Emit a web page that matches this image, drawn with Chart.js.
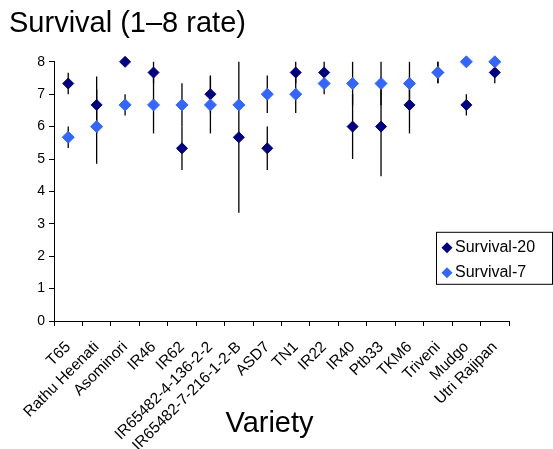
<!DOCTYPE html>
<html>
<head>
<meta charset="utf-8">
<script src="https://cdn.jsdelivr.net/npm/chart.js@4.4.1/dist/chart.umd.min.js"></script>
<style>
  html, body { margin: 0; padding: 0; background: #fff; }
</style>
</head>
<body>
<canvas id="myChart" width="553" height="449"></canvas>
<script>
var varieties = ["T65", "Rathu Heenati", "Asominori", "IR46", "IR62", "IR65482-4-136-2-2",
   "IR65482-7-216-1-2-B", "ASD7", "TN1", "IR22", "IR40", "Ptb33", "TKM6", "Triveni", "Mudgo", "Utri Rajipan"];
var survival20 = [7.33, 6.67, 8, 7.67, 5.33, 7, 5.67, 5.33, 7.67, 7.67, 6, 6, 6.67, 7.67, 6.67, 7.67];
var err20 = [0.33, 0.88, 0, 0.33, 0.67, 0.58, 2.33, 0.67, 0.33, 0.33, 1, 1.53, 0.88, 0.33, 0.33, 0.33];
var survival7 = [5.67, 6, 6.67, 6.67, 6.67, 6.67, 6.67, 7, 7, 7.33, 7.33, 7.33, 7.33, 7.67, 8, 8];
var err7 = [0.33, 1.15, 0.33, 0.88, 0.67, 0.88, 0, 0.58, 0.58, 0.33, 0.67, 0.67, 0.67, 0.33, 0, 0];
var yTicks = [0, 1, 2, 3, 4, 5, 6, 7, 8];

var font = "Arial, 'Liberation Sans', sans-serif";

// vertical error bars, drawn under the diamonds
var errorBars = {
   id: 'errorBars',
   beforeDatasetsDraw: function (chart) {
      var ctx = chart.ctx;
      var y = chart.scales.y;
      ctx.save();
      ctx.strokeStyle = '#000';
      ctx.lineWidth = 1.3;
      chart.data.datasets.forEach(function (ds, di) {
         var meta = chart.getDatasetMeta(di);
         ds.errors.forEach(function (e, i) {
            if (!e) return;
            var px = meta.data[i].x;
            ctx.beginPath();
            ctx.moveTo(px, y.getPixelForValue(ds.data[i] + e));
            ctx.lineTo(px, y.getPixelForValue(ds.data[i] - e));
            ctx.stroke();
         });
      });
      ctx.restore();
   }
};

// boxed legend over the right edge + axis title
var extras = {
   id: 'extras',
   afterDraw: function (chart) {
      var ctx = chart.ctx;
      var a = chart.chartArea;
      ctx.save();
      var bx = a.right - 73, by = a.top + 170, bw = 116, bh = 52;
      ctx.fillStyle = '#fff';
      ctx.fillRect(bx, by, bw, bh);
      ctx.strokeStyle = '#000';
      ctx.lineWidth = 1;
      ctx.strokeRect(bx + 0.5, by + 0.5, bw, bh);
      ctx.font = "16px " + font;
      ctx.textBaseline = 'middle';
      chart.data.datasets.forEach(function (ds, i) {
         var cy = by + 16 + i * 25;
         var cx = bx + 11;
         ctx.fillStyle = ds.backgroundColor;
         ctx.beginPath();
         ctx.moveTo(cx, cy - 5.5);
         ctx.lineTo(cx + 5.5, cy);
         ctx.lineTo(cx, cy + 5.5);
         ctx.lineTo(cx - 5.5, cy);
         ctx.closePath();
         ctx.fill();
         ctx.fillStyle = '#000';
         ctx.fillText(ds.label, cx + 8, cy);
      });
      ctx.font = "29px " + font;
      ctx.textAlign = 'center';
      ctx.textBaseline = 'alphabetic';
      ctx.fillText('Variety', (a.left + a.right) / 2 - 12, 432);
      ctx.restore();
   }
};

new Chart(document.getElementById("myChart"), {
   type: 'line',
   data: {
      labels: varieties,
      datasets: [{
         label: 'Survival-20',
         data: survival20,
         errors: err20,
         showLine: false,
         clip: false,
         pointStyle: 'rectRot',
         pointRadius: 5.5,
         pointBorderWidth: 1,
         backgroundColor: '#000080',
         borderColor: '#000080',
         order: 1
      }, {
         label: 'Survival-7',
         data: survival7,
         errors: err7,
         showLine: false,
         clip: false,
         pointStyle: 'rectRot',
         pointRadius: 6,
         pointBorderWidth: 1,
         backgroundColor: '#3366ff',
         borderColor: '#3366ff',
         order: 0
      }]
   },
   options: {
      responsive: false,
      animation: false,
      layout: { padding: { left: 9, right: 44, top: 0, bottom: 0 } },
      plugins: {
         legend: { display: false },
         tooltip: { enabled: false },
         title: {
            display: true,
            text: 'Survival (1\u20138 rate)',
            align: 'start',
            color: '#000',
            font: { family: font, size: 29, weight: 'normal' },
            padding: { top: 7, bottom: 20 }
         }
      },
      scales: {
         x: {
            type: 'category',
            offset: true,
            grid: { offset: true, drawOnChartArea: false, tickLength: 5, color: '#000' },
            border: { color: '#000', width: 1 },
            ticks: {
               autoSkip: false, minRotation: 45, maxRotation: 45,
               color: '#000', padding: 12,
               font: { family: font, size: 15.5 }
            },
            afterFit: function (s) { s.height = 128; }
         },
         y: {
            min: yTicks[0],
            max: yTicks[yTicks.length - 1],
            afterBuildTicks: function (s) { s.ticks = yTicks.map(function (v) { return { value: v }; }); },
            grid: { drawOnChartArea: false, tickLength: 5, color: '#000' },
            border: { color: '#000', width: 1 },
            ticks: { color: '#000', padding: 4, font: { family: font, size: 14 } },
            afterFit: function (s) { s.width = 45; }
         }
      }
   },
   plugins: [errorBars, extras]
});
</script>
</body>
</html>
